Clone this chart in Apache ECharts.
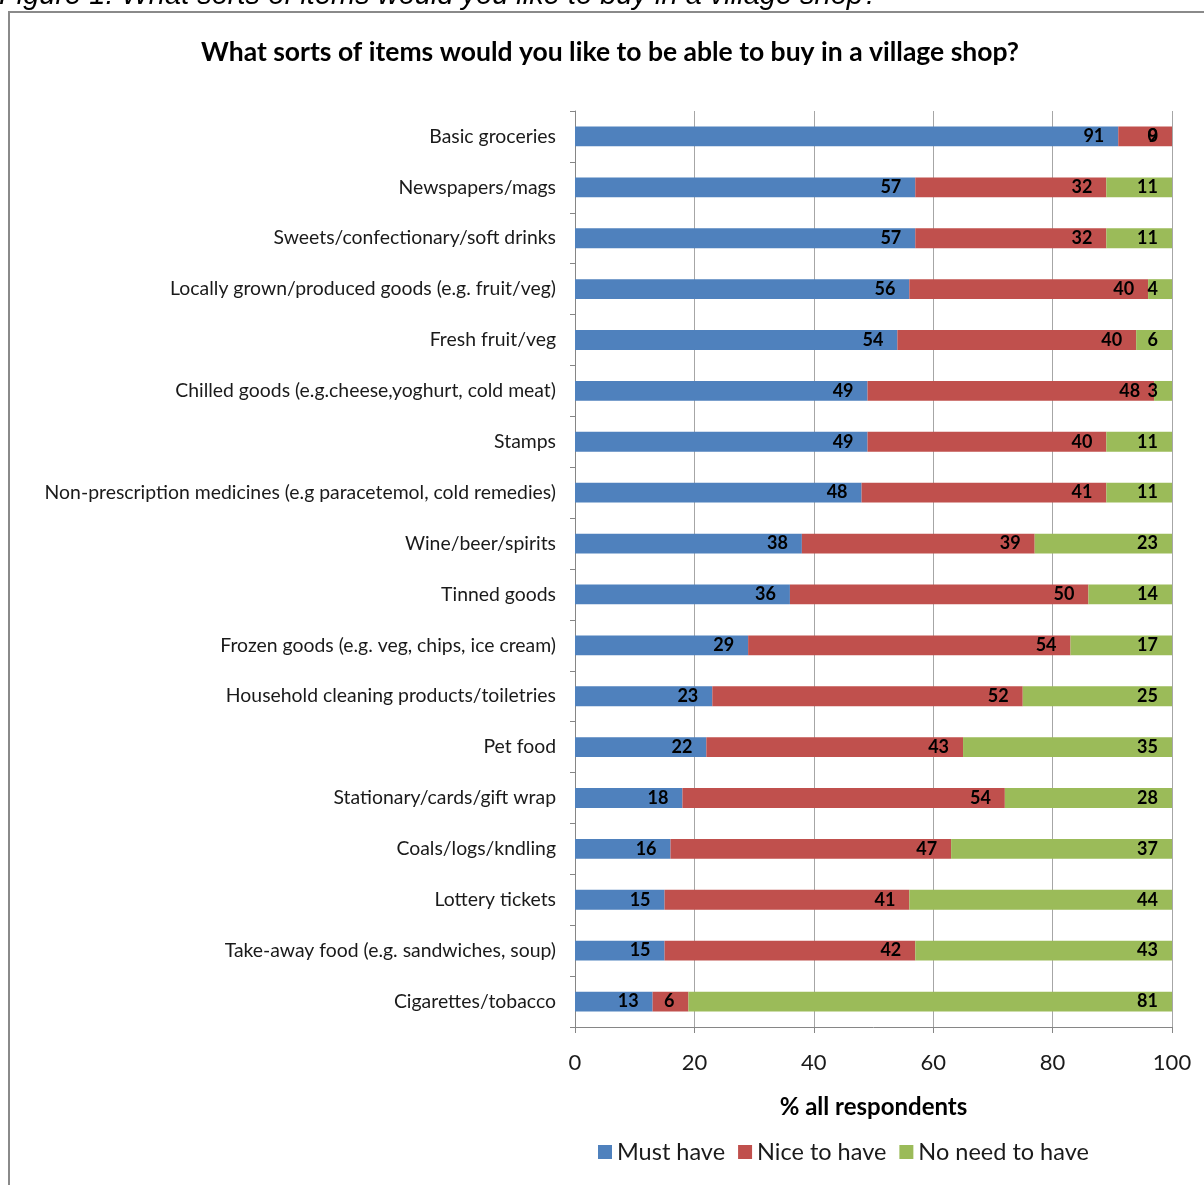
<!DOCTYPE html>
<html>
<head>
<meta charset="utf-8">
<title>Village shop survey</title>
<script src="https://cdn.jsdelivr.net/npm/echarts@6.0.0/dist/echarts.min.js"></script>
<style>
  html, body { margin: 0; padding: 0; background: #ffffff; }
  #chart { width: 1204px; height: 1185px; }
</style>
</head>
<body>
<div id="chart"></div>
<script>
// Survey items, listed top to bottom
const categories = [
  'Basic groceries',
  'Newspapers/mags',
  'Sweets/confectionary/soft drinks',
  'Locally grown/produced goods (e.g. fruit/veg)',
  'Fresh fruit/veg',
  'Chilled goods (e.g.cheese,yoghurt, cold meat)',
  'Stamps',
  'Non-prescription medicines (e.g paracetemol, cold remedies)',
  'Wine/beer/spirits',
  'Tinned goods',
  'Frozen goods (e.g. veg, chips, ice cream)',
  'Household cleaning products/toiletries',
  'Pet food',
  'Stationary/cards/gift wrap',
  'Coals/logs/kndling',
  'Lottery tickets',
  'Take-away food (e.g. sandwiches, soup)',
  'Cigarettes/tobacco'
];

// % of all respondents
const mustHave   = [91, 57, 57, 56, 54, 49, 49, 48, 38, 36, 29, 23, 22, 18, 16, 15, 15, 13];
const niceToHave = [ 9, 32, 32, 40, 40, 48, 40, 41, 39, 50, 54, 52, 43, 54, 47, 41, 42,  6];
const noNeed     = [ 0, 11, 11,  4,  6,  3, 11, 11, 23, 14, 17, 25, 35, 28, 37, 44, 43, 81];

const xTicks = [0, 20, 40, 60, 80, 100];

const seriesNames = ['Must have', 'Nice to have', 'No need to have'];
const seriesColors = ['#4f81bd', '#c0504d', '#9bbb59'];
const seriesData = [mustHave, niceToHave, noNeed];

const chart = echarts.init(document.getElementById('chart'), null, { renderer: 'canvas' });

const labelStyle = {
  show: true,
  position: 'insideRight',
  distance: 14,
  color: '#000000',
  fontFamily: 'Lato',
  fontWeight: 'bold',
  fontSize: 18
};

const option = {
  backgroundColor: '#ffffff',
  animation: false,
  graphic: [
    {
      type: 'rect',
      shape: { x: 9, y: 12, width: 1400, height: 1400 },
      style: { fill: 'none', stroke: '#8a8a8a', lineWidth: 2 },
      silent: true
    },
    {
      type: 'text',
      x: -1, y: -4,
      style: {
        text: 'Figure 1: What sorts of items would you like to buy in a village shop?',
        font: 'italic 29px "Liberation Sans"',
        fill: '#000000',
        verticalAlign: 'middle',
        align: 'left'
      },
      silent: true
    },
    {
      type: 'text',
      x: 610, y: 52,
      style: {
        text: 'What sorts of items would you like to be able to buy in a village shop?',
        font: 'bold 26.5px Lato',
        fill: '#000000',
        verticalAlign: 'middle',
        align: 'center'
      },
      silent: true
    }
  ],
  legend: {
    data: seriesNames,
    left: 593,
    top: 1135,
    icon: 'rect',
    itemWidth: 14,
    itemHeight: 14,
    itemGap: 13,
    textStyle: { fontFamily: 'Lato', fontSize: 23.5, color: '#1a1a1a' }
  },
  grid: { left: 575, right: 32, top: 111, bottom: 158, containLabel: false },
  xAxis: {
    type: 'value',
    min: 0,
    max: 100,
    interval: 20,
    name: '% all respondents',
    nameLocation: 'middle',
    nameGap: 68,
    nameTextStyle: { fontFamily: 'Lato', fontWeight: 'bold', fontSize: 24, color: '#000000' },
    axisLine: { show: true, lineStyle: { color: '#868686', width: 1 } },
    axisTick: { show: true, length: 6, lineStyle: { color: '#868686' } },
    axisLabel: {
      fontFamily: 'Lato', fontSize: 22, color: '#1a1a1a', margin: 25,
      formatter: v => (xTicks.indexOf(v) >= 0 ? String(v) : '')
    },
    splitLine: { show: true, lineStyle: { color: '#a6a6a6', width: 1 } }
  },
  yAxis: {
    type: 'category',
    data: categories,
    inverse: true,
    axisLine: { show: true, lineStyle: { color: '#868686', width: 1 } },
    axisTick: { show: true, length: 5, inside: false, alignWithLabel: false, lineStyle: { color: '#868686' } },
    axisLabel: { fontFamily: 'Lato', fontSize: 19.4, color: '#1a1a1a', margin: 19 },
    splitLine: { show: false }
  },
  series: seriesNames.map((name, i) => ({
    name: name,
    type: 'bar',
    stack: 'total',
    barWidth: '39%',
    data: seriesData[i],
    itemStyle: { color: seriesColors[i] },
    label: labelStyle
  }))
};

chart.setOption(option);
</script>
</body>
</html>
